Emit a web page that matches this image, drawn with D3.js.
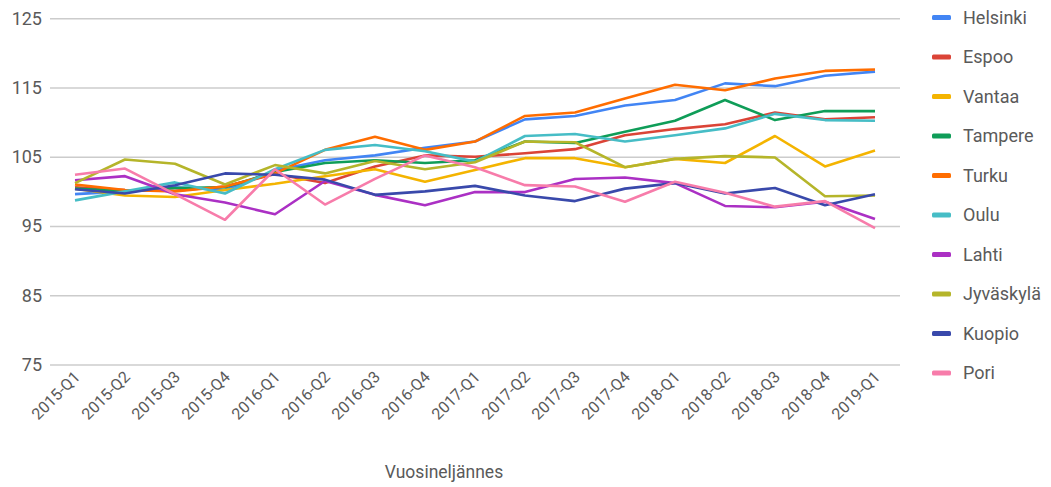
<!DOCTYPE html>
<html>
<head>
<meta charset="utf-8">
<script src="https://cdn.jsdelivr.net/npm/d3@7"></script>
<style>
  body { margin: 0; background: #fff; }
  svg { font-family: Roboto, "Noto Sans", sans-serif; }
</style>
</head>
<body>
<svg id="chart" width="1051" height="487"></svg>
<script>
const quarters = ["2015-Q1","2015-Q2","2015-Q3","2015-Q4","2016-Q1","2016-Q2","2016-Q3","2016-Q4",
  "2017-Q1","2017-Q2","2017-Q3","2017-Q4","2018-Q1","2018-Q2","2018-Q3","2018-Q4","2019-Q1"];
const yTicks = [75, 85, 95, 105, 115, 125];

const cities = ["Helsinki","Espoo","Vantaa","Tampere","Turku","Oulu","Lahti","Jyväskylä","Kuopio","Pori"];
const colors = ["#4285f4","#db4437","#f4b400","#0f9d58","#ff6d00","#46bdc6","#ab30c4","#b5b52a","#3949ab","#f77caa"];

const helsinki  = [99.6, 100.0, 100.6, 100.2, 103.0, 104.5, 105.2, 106.3, 107.2, 110.4, 110.9, 112.4, 113.2, 115.6, 115.2, 116.7, 117.3];
const espoo     = [100.6, 100.2, 100.1, 100.7, 102.5, 101.2, 103.6, 105.2, 105.0, 105.5, 106.1, 108.1, 109.0, 109.7, 111.4, 110.4, 110.7];
const vantaa    = [100.4, 99.4, 99.2, 100.2, 101.1, 102.2, 103.2, 101.4, 103.1, 104.8, 104.8, 103.5, 104.7, 104.1, 108.0, 103.6, 105.9];
const tampere   = [100.4, 100.0, 100.5, 100.6, 102.8, 104.1, 104.5, 104.1, 104.5, 107.2, 107.0, 108.6, 110.2, 113.2, 110.3, 111.6, 111.6];
const turku     = [101.0, 100.2, 100.0, 100.7, 102.6, 106.0, 107.9, 106.0, 107.2, 110.9, 111.4, 113.4, 115.4, 114.6, 116.3, 117.4, 117.6];
const oulu      = [98.7, 100.0, 101.3, 99.7, 103.2, 106.0, 106.7, 105.8, 104.3, 108.0, 108.3, 107.2, 108.1, 109.1, 111.2, 110.3, 110.2];
const lahti     = [101.6, 102.2, 99.6, 98.4, 96.7, 101.5, 99.5, 98.0, 99.9, 99.9, 101.8, 102.0, 101.2, 97.9, 97.7, 98.5, 96.0];
const jyvaskyla = [101.2, 104.6, 104.0, 101.0, 103.8, 102.6, 104.4, 103.2, 104.2, 107.2, 107.1, 103.5, 104.7, 105.1, 104.9, 99.3, 99.4];
const kuopio    = [100.3, 99.7, 100.9, 102.6, 102.4, 101.7, 99.5, 100.0, 100.8, 99.4, 98.6, 100.4, 101.2, 99.7, 100.5, 98.0, 99.6];
const pori      = [102.4, 103.3, 99.6, 95.9, 103.2, 98.1, 101.8, 105.2, 103.5, 100.9, 100.7, 98.5, 101.4, 99.8, 97.8, 98.6, 94.7];

const seriesValues = [helsinki, espoo, vantaa, tampere, turku, oulu, lahti, jyvaskyla, kuopio, pori];

const svg = d3.select("#chart");
const textColor = "#5a5a5a";

const x = d3.scalePoint().domain(quarters).range([50, 900]).padding(0.5);
const y = d3.scaleLinear().domain([75, 125]).range([364.5, 18.3]);

// gridlines + y labels
const yAxis = svg.append("g")
    .attr("transform", "translate(50,0)")
    .call(d3.axisLeft(y).tickValues(yTicks).tickSize(-850).tickPadding(8));
yAxis.select(".domain").remove();
yAxis.selectAll(".tick line").attr("stroke", "#cccccc").attr("stroke-width", 1.5);
yAxis.selectAll(".tick text")
    .attr("fill", textColor)
    .style("font-size", "18px")
    .style("font-family", "Roboto, sans-serif");

// x labels, rotated
svg.append("g").selectAll("text")
    .data(quarters)
    .enter()
    .append("text")
        .attr("transform", d => `translate(${x(d) + 6},${378}) rotate(-45)`)
        .attr("text-anchor", "end")
        .attr("fill", textColor)
        .style("font-size", "16px")
        .text(d => d);

svg.append("text")
    .attr("x", 444)
    .attr("y", 478)
    .attr("text-anchor", "middle")
    .attr("fill", textColor)
    .style("font-size", "17.5px")
    .text("Vuosineljännes");

// lines
let line = d3.line()
    .x((d, i) => x(quarters[i]))
    .y(d => y(d));

svg.append("g").selectAll("path")
    .data(seriesValues)
    .enter()
    .append("path")
        .attr("d", d => line(d))
        .attr("fill", "none")
        .attr("stroke", (d, i) => colors[i])
        .attr("stroke-width", 2.6)
        .attr("stroke-linejoin", "round");

// legend
let legendY = d3.scalePoint().domain(cities).range([17.5, 373]);
let gLegend = svg.append("g").selectAll("g")
    .data(cities)
    .enter()
    .append("g")
        .attr("transform", d => `translate(932,${legendY(d)})`);
gLegend.append("rect")
    .attr("x", 0).attr("y", -2.5)
    .attr("width", 19).attr("height", 5)
    .attr("rx", 1.5)
    .attr("fill", (d, i) => colors[i]);
gLegend.append("text")
    .attr("x", 31)
    .attr("dy", "0.35em")
    .attr("fill", textColor)
    .style("font-size", "18px")
    .text(d => d);
</script>
</body>
</html>
